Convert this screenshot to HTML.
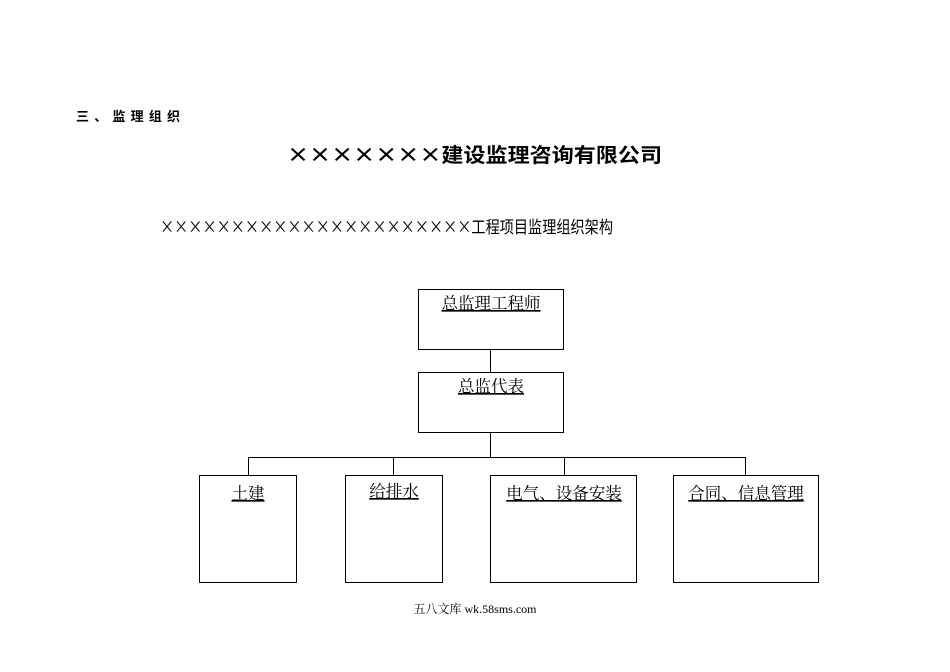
<!DOCTYPE html>
<html><head><meta charset="utf-8"><style>
html,body{margin:0;padding:0;background:#fff;width:950px;height:672px;overflow:hidden}
svg text{font-family:"Liberation Serif","Noto Serif CJK SC","Noto Sans CJK SC",serif;}
</style></head><body>
<svg width="950" height="672" viewBox="0 0 950 672" xmlns="http://www.w3.org/2000/svg">
<text x="76" y="121" font-size="13" font-weight="bold" textLength="104" lengthAdjust="spacing" style="font-family:'Noto Sans CJK SC',sans-serif">三、监理组织</text>
<text x="287" y="162" font-size="20" font-weight="bold" textLength="375" lengthAdjust="spacingAndGlyphs" style="font-family:'Noto Sans CJK SC',sans-serif">×××××××建设监理咨询有限公司</text>
<text x="160" y="233" font-size="17" textLength="453" lengthAdjust="spacingAndGlyphs" style="font-family:'Noto Sans CJK SC',sans-serif">××××××××××××××××××××××工程项目监理组织架构</text>
<g fill="none" stroke="#000" stroke-width="1">
<rect x="418.5" y="289.5" width="145" height="60"/>
<rect x="418.5" y="372.5" width="145" height="60"/>
<line x1="490.5" y1="350" x2="490.5" y2="372"/>
<line x1="490.5" y1="432" x2="490.5" y2="457"/>
<line x1="248" y1="457.5" x2="746" y2="457.5"/>
<line x1="248.5" y1="457" x2="248.5" y2="475"/>
<line x1="393.5" y1="457" x2="393.5" y2="475"/>
<line x1="564.5" y1="457" x2="564.5" y2="475"/>
<line x1="745.5" y1="457" x2="745.5" y2="475"/>
<rect x="199.5" y="475.5" width="97" height="107"/>
<rect x="345.5" y="475.5" width="97" height="107"/>
<rect x="490.5" y="475.5" width="146" height="107"/>
<rect x="673.5" y="475.5" width="145" height="107"/>
</g>
<g font-size="16.5" text-anchor="middle" text-decoration="underline">
<text x="491" y="309">总监理工程师</text>
<text x="491" y="392">总监代表</text>
<text x="248" y="499">土建</text>
<text x="394" y="497">给排水</text>
<text x="564" y="499">电气、设备安装</text>
<text x="746" y="499">合同、信息管理</text>
</g>
<text x="475" y="613" font-size="12" text-anchor="middle">五八文库 wk.58sms.com</text>
</svg>
</body></html>
